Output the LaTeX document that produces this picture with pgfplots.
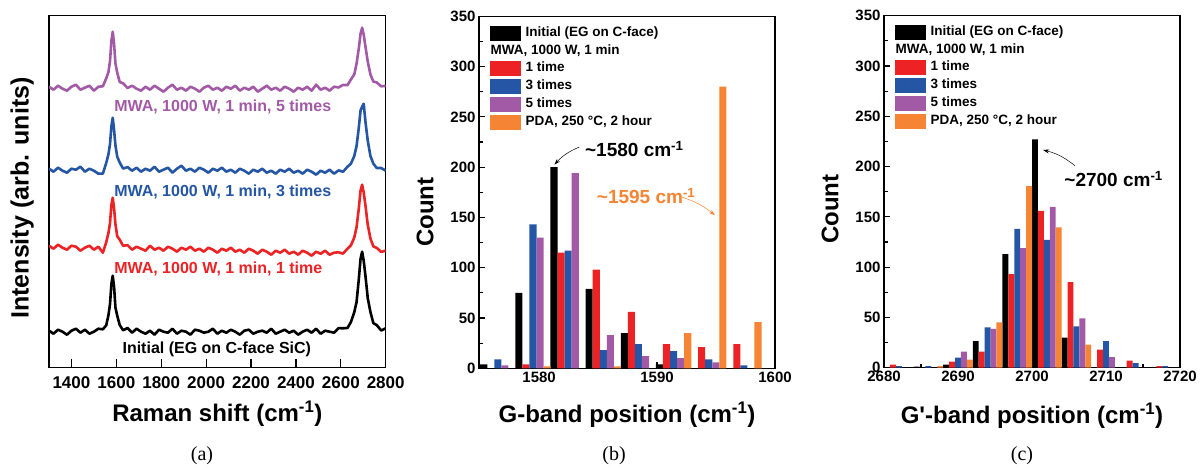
\documentclass[border=0pt]{standalone}
\usepackage{fontspec}
\setmainfont{Liberation Sans}
\newfontfamily\capfont{Liberation Serif}
\usepackage{pgfplots}
\pgfplotsset{compat=1.18}
\usetikzlibrary{arrows.meta}
\definecolor{cred}{RGB}{237,34,36}
\definecolor{cblue}{RGB}{36,86,165}
\definecolor{cpurple}{RGB}{163,90,166}
\definecolor{corange}{RGB}{245,132,52}
\pgfplotsset{
  frame/.style={
    scale only axis,
    tick align=inside,
    tick pos=left,
    axis line style={line width=1.5pt},
    every tick/.append style={line width=1.2pt, black},
    /pgf/number format/assume math mode=true,
    /pgf/number format/1000 sep={},
    label style={font=\bfseries\fontsize{24}{24}\selectfont},
  },
  hist/.style={
    frame,
    width=296pt, height=352pt,
    ymin=0, ymax=350,
    ytick={0,50,...,350},
    minor y tick num=1, minor x tick num=1,
    major tick length=6pt, minor tick length=3.5pt,
    tick label style={font=\bfseries\fontsize{15}{15}\selectfont},
    legend cell align=left,
    legend style={at={(0,1)}, anchor=north west, xshift=11pt, yshift=-9pt,
      draw=none, fill=none, inner sep=0pt, row sep=3pt, column sep=3.5pt,
      font=\bfseries\fontsize{13.5}{13.5}\selectfont,
      nodes={inner sep=1pt, text height=9.5pt, text depth=2.5pt}},
  },
  bars/.style={ybar, bar shift=0pt, draw=none, fill=#1,
    legend image code/.code={\fill[#1] (0pt,-7.5pt) rectangle (31pt,7.5pt);}},
  spec/.style={#1, line width=2.6pt, line join=round},
}

\begin{document}
\begin{tikzpicture}
\path[use as bounding box] (0,0) rectangle (1201pt,467pt);

% (a) Raman spectra
\begin{axis}[frame,
  at={(49pt,99.3pt)}, anchor=south west,
  width=336.7pt, height=352pt,
  xmin=1300, xmax=2800, ymin=0, ymax=352,
  xtick={1400,1600,...,2800}, ytick=\empty,
  major tick length=9pt,
  xticklabel style={font=\bfseries\fontsize{17}{17}\selectfont, yshift=-5pt},
  xlabel={Raman shift (cm\textsuperscript{-1})},
  ylabel={Intensity (arb. units)},
  xlabel style={at={(axis description cs:0.5,0)}, anchor=center, yshift=-46pt},
  ylabel style={at={(axis description cs:-0.08,0.482)}, anchor=center,
    font=\bfseries\fontsize{25}{25}\selectfont},
]
\addplot[spec=black] coordinates {
(1300,37)(1320,34)(1340,38)(1360,36)(1380,33)(1400,37)(1420,39)(1440,35)(1460,38)(1480,34)
(1500,36)(1520,39)(1540,38.4)(1555,42.4)(1565,52.7)(1572,64)(1578,83.9)(1584,92)(1590,80.7)
(1596,60.2)(1604,52)(1615,42.7)(1630,37.4)(1650,39.7)(1670,35)(1690,39)(1710,36)(1730,34)
(1750,37)(1770,33)(1790,38)(1810,36)(1830,35)(1850,39)(1870,34)(1890,37)(1910,36)(1930,33)
(1950,38)(1970,37)(1990,35)(2010,36)(2030,39)(2050,34)(2070,37)(2090,35)(2110,38)(2130,36)
(2150,33)(2170,37)(2190,38)(2210,34)(2230,36)(2250,37)(2270,35)(2290,39)(2310,34)(2330,36)
(2350,38)(2370,35)(2390,37)(2410,33)(2430,36)(2450,38)(2470,35)(2490,39)(2510,34)(2530,37)
(2550,36)(2570,35)(2590,39.6)(2610,39.4)(2630,39.8)(2645,45.6)(2660,55.6)(2670,65.4)(2680,88)
(2688,109)(2695,116)(2702,107)(2710,91.4)(2720,69.6)(2732,55.6)(2745,44.6)(2760,42.6)
(2780,37.2)(2800,39.4)};
\addplot[spec=cred] coordinates {
(1300,122)(1320,119)(1340,123)(1360,120)(1380,118)(1400,122)(1420,121)(1440,117)(1460,120)
(1480,122)(1500,118)(1520,121)(1540,115)(1555,125.5)(1565,135)(1572,145)(1578,163)(1584,170)
(1590,159)(1596,143.5)(1604,131.5)(1615,128)(1630,122)(1650,122.5)(1670,118)(1690,121)
(1710,119)(1730,117)(1750,122)(1770,118)(1790,120)(1810,117)(1830,121)(1850,119)(1870,116)
(1890,120)(1910,118)(1930,121)(1950,117)(1970,119)(1990,116)(2010,120)(2030,118)(2050,115)
(2070,119)(2090,117)(2110,120)(2130,116)(2150,118)(2170,115)(2190,119)(2210,117)(2230,114)
(2250,118)(2270,116)(2290,113)(2310,117)(2330,115)(2350,118)(2370,114)(2390,116)(2410,113)
(2430,117)(2450,115)(2470,112)(2490,116)(2510,114)(2530,117)(2550,113)(2570,115)(2590,115.4)
(2610,114.1)(2630,119.1)(2645,122.3)(2660,130.2)(2670,140.2)(2680,158.9)(2688,177.1)
(2695,183)(2702,175.1)(2710,161.9)(2720,143)(2732,129.2)(2745,121.3)(2760,119.8)(2780,115.8)
(2800,117.1)};
\addplot[spec=cblue] coordinates {
(1300,199)(1320,196)(1340,200)(1360,197)(1380,195)(1400,199)(1420,198)(1440,201)(1460,196)
(1480,199)(1500,197)(1520,194)(1540,194.1)(1555,204.8)(1565,213.6)(1572,224)(1578,241.6)
(1584,250)(1590,237.6)(1596,222.4)(1604,211)(1615,205.2)(1630,199.1)(1650,200.6)(1670,197)
(1690,200)(1710,196)(1730,199)(1750,197)(1770,201)(1790,196)(1810,198)(1830,200)(1850,195)
(1870,199)(1890,202)(1910,197)(1930,199)(1950,196)(1970,200)(1990,198)(2010,195)(2030,199)
(2050,197)(2070,200)(2090,196)(2110,198)(2130,195)(2150,199)(2170,197)(2190,194)(2210,198)
(2230,196)(2250,199)(2270,195)(2290,197)(2310,194)(2330,198)(2350,196)(2370,199)(2390,195)
(2410,197)(2430,194)(2450,198)(2470,196)(2490,193)(2510,197)(2530,195)(2550,198)(2570,194)
(2590,197.3)(2610,196)(2630,201)(2645,204)(2660,211.7)(2670,221.5)(2680,239.6)(2688,257.3)
(2695,261)(2702,264)(2710,245.6)(2720,227.1)(2732,211.7)(2745,204)(2760,199.7)(2780,199.7)
(2800,197)};
\addplot[spec=cpurple] coordinates {
(1300,281)(1320,278)(1340,282)(1360,279)(1380,277)(1400,281)(1420,283)(1440,278)(1460,280)
(1480,282)(1500,277)(1520,281)(1540,281.4)(1555,289.4)(1565,295.7)(1572,307)(1578,326.9)
(1584,336)(1590,323.7)(1596,304.2)(1604,295)(1615,285.7)(1630,284.4)(1650,279.7)(1670,282)
(1690,279)(1710,277)(1730,281)(1750,278)(1770,282)(1790,279)(1810,276)(1830,280)(1850,283)
(1870,278)(1890,280)(1910,277)(1930,281)(1950,279)(1970,276)(1990,280)(2010,282)(2030,278)
(2050,280)(2070,277)(2090,281)(2110,279)(2130,282)(2150,277)(2170,280)(2190,278)(2210,281)
(2230,276)(2250,279)(2270,282)(2290,278)(2310,280)(2330,277)(2350,281)(2370,279)(2390,276)
(2410,280)(2430,278)(2450,281)(2470,277)(2490,283)(2510,278)(2530,280)(2550,277)(2570,281)
(2590,280.2)(2610,282.8)(2630,282.6)(2645,288.2)(2660,293.2)(2670,303.8)(2680,319)(2688,334)
(2695,340)(2702,333)(2710,320.8)(2720,306.2)(2732,293.2)(2745,286.2)(2760,285.2)(2780,281.4)
(2800,281.8)};
\node[anchor=west, cpurple, font=\bfseries\fontsize{16}{16}\selectfont] at (axis cs:1575,261) {MWA, 1000 W, 1 min, 5 times};
\node[anchor=west, cblue, font=\bfseries\fontsize{16}{16}\selectfont] at (axis cs:1575,176) {MWA, 1000 W, 1 min, 3 times};
\node[anchor=west, cred, font=\bfseries\fontsize{16}{16}\selectfont] at (axis cs:1575,98.4) {MWA, 1000 W, 1 min, 1 time};
\node[anchor=west, black, font=\bfseries\fontsize{16}{16}\selectfont] at (axis cs:1612,18) {Initial (EG on C-face SiC)};
\end{axis}

% (b) G-band histogram
\begin{axis}[hist,
  at={(479pt,98.7pt)}, anchor=south west,
  xmin=1574.9, xmax=1600, xtick={1580,1590,1600},
  xlabel={G-band position (cm\textsuperscript{-1})}, ylabel={Count},
  xlabel style={at={(axis description cs:0.5,0)}, anchor=center, yshift=-46pt},
  ylabel style={at={(axis description cs:-0.182,0.444)}, anchor=center},
]
\addplot[bars=black, bar width=0.6] coordinates {(1575.3,4)(1578.28,75)(1581.26,200)(1584.24,79)(1587.22,35)(1590.2,4)};
\addlegendentry{Initial (EG on C-face)}
\addlegendimage{empty legend}
\addlegendentry{\hspace*{-35pt}MWA, 1000 W, 1 min}
\addplot[bars=cred, bar width=0.6] coordinates {(1578.88,4)(1581.86,115)(1584.84,98)(1587.82,56)(1590.8,24)(1593.78,21)(1596.76,24)};
\addlegendentry{1 time}
\addplot[bars=cblue, bar width=0.6] coordinates {(1576.5,9)(1579.48,143)(1582.46,117)(1585.44,18)(1588.42,24)(1591.4,17)(1594.38,9)(1597.36,3)};
\addlegendentry{3 times}
\addplot[bars=cpurple, bar width=0.6] coordinates {(1577.1,3)(1580.08,130)(1583.06,194)(1586.04,33)(1589.02,12)(1592.0,10)(1594.98,6)};
\addlegendentry{5 times}
\addplot[bars=corange, bar width=0.6] coordinates {(1580.68,2)(1586.64,2)(1592.6,35)(1595.58,280)(1598.56,46)};
\addlegendentry{PDA, 250 °C, 2 hour}
\node[anchor=west, font=\bfseries\fontsize{19}{19}\selectfont] at (axis cs:1583.6,218) {\textasciitilde 1580 cm\textsuperscript{-1}};
\draw[-{Stealth[length=6pt,width=4pt]}, line width=0.5pt] (axis cs:1583.4,220) to[bend right=12] (axis cs:1581.3,202.6);
\node[anchor=west, corange, font=\bfseries\fontsize{19}{19}\selectfont] at (axis cs:1584.6,171.3) {\textasciitilde 1595 cm\textsuperscript{-1}};
\draw[corange, -{Stealth[length=6pt,width=4pt]}, line width=0.5pt] (axis cs:1592.1,170.3) to[bend left=10] (axis cs:1594.9,152.3);
\end{axis}

% (c) G'-band histogram
\begin{axis}[hist,
  at={(884pt,99.3pt)}, anchor=south west,
  xmin=2680, xmax=2720, xtick={2680,2690,...,2720},
  xlabel={G\textquotesingle-band position (cm\textsuperscript{-1})}, ylabel={Count},
  xlabel style={at={(axis description cs:0.5,0)}, anchor=center, yshift=-48pt},
  ylabel style={at={(axis description cs:-0.182,0.45)}, anchor=center},
]
\addplot[bars=black, bar width=0.8] coordinates {(2684.4,1)(2688.4,3)(2692.4,26.5)(2696.4,113)(2700.4,227)(2704.4,30)};
\addlegendentry{Initial (EG on C-face)}
\addlegendimage{empty legend}
\addlegendentry{\hspace*{-35pt}MWA, 1000 W, 1 min}
\addplot[bars=cred, bar width=0.8] coordinates {(2681.2,3)(2689.2,6)(2693.2,16)(2697.2,93)(2701.2,156)(2705.2,85)(2709.2,18)(2713.2,7)(2717.2,1.5)};
\addlegendentry{1 time}
\addplot[bars=cblue, bar width=0.8] coordinates {(2682.0,1.5)(2686.0,1.5)(2690.0,10)(2694.0,40)(2698.0,138)(2702.0,127)(2706.0,41)(2710.0,26.5)(2714.0,4.5)(2718.0,1.5)};
\addlegendentry{3 times}
\addplot[bars=cpurple, bar width=0.8] coordinates {(2690.8,16)(2694.8,38.5)(2698.8,119)(2702.8,160)(2706.8,49)(2710.8,10.5)};
\addlegendentry{5 times}
\addplot[bars=corange, bar width=0.8] coordinates {(2687.6,1.5)(2691.6,8)(2695.6,45)(2699.6,180.6)(2703.6,139.5)(2707.6,23)};
\addlegendentry{PDA, 250 °C, 2 hour}
\node[anchor=west, font=\bfseries\fontsize{19}{19}\selectfont] at (axis cs:2703.9,187.6) {\textasciitilde 2700 cm\textsuperscript{-1}};
\draw[-{Stealth[length=6pt,width=4pt]}, line width=0.5pt] (axis cs:2705.8,200.9) to[bend right=12] (axis cs:2701.5,216.5);
\end{axis}

\node[font=\capfont\fontsize{20}{20}\selectfont] at (202pt,11pt) {(a)};
\node[font=\capfont\fontsize{20}{20}\selectfont] at (614pt,11pt) {(b)};
\node[font=\capfont\fontsize{20}{20}\selectfont] at (1022pt,11pt) {(c)};
\end{tikzpicture}
\end{document}
